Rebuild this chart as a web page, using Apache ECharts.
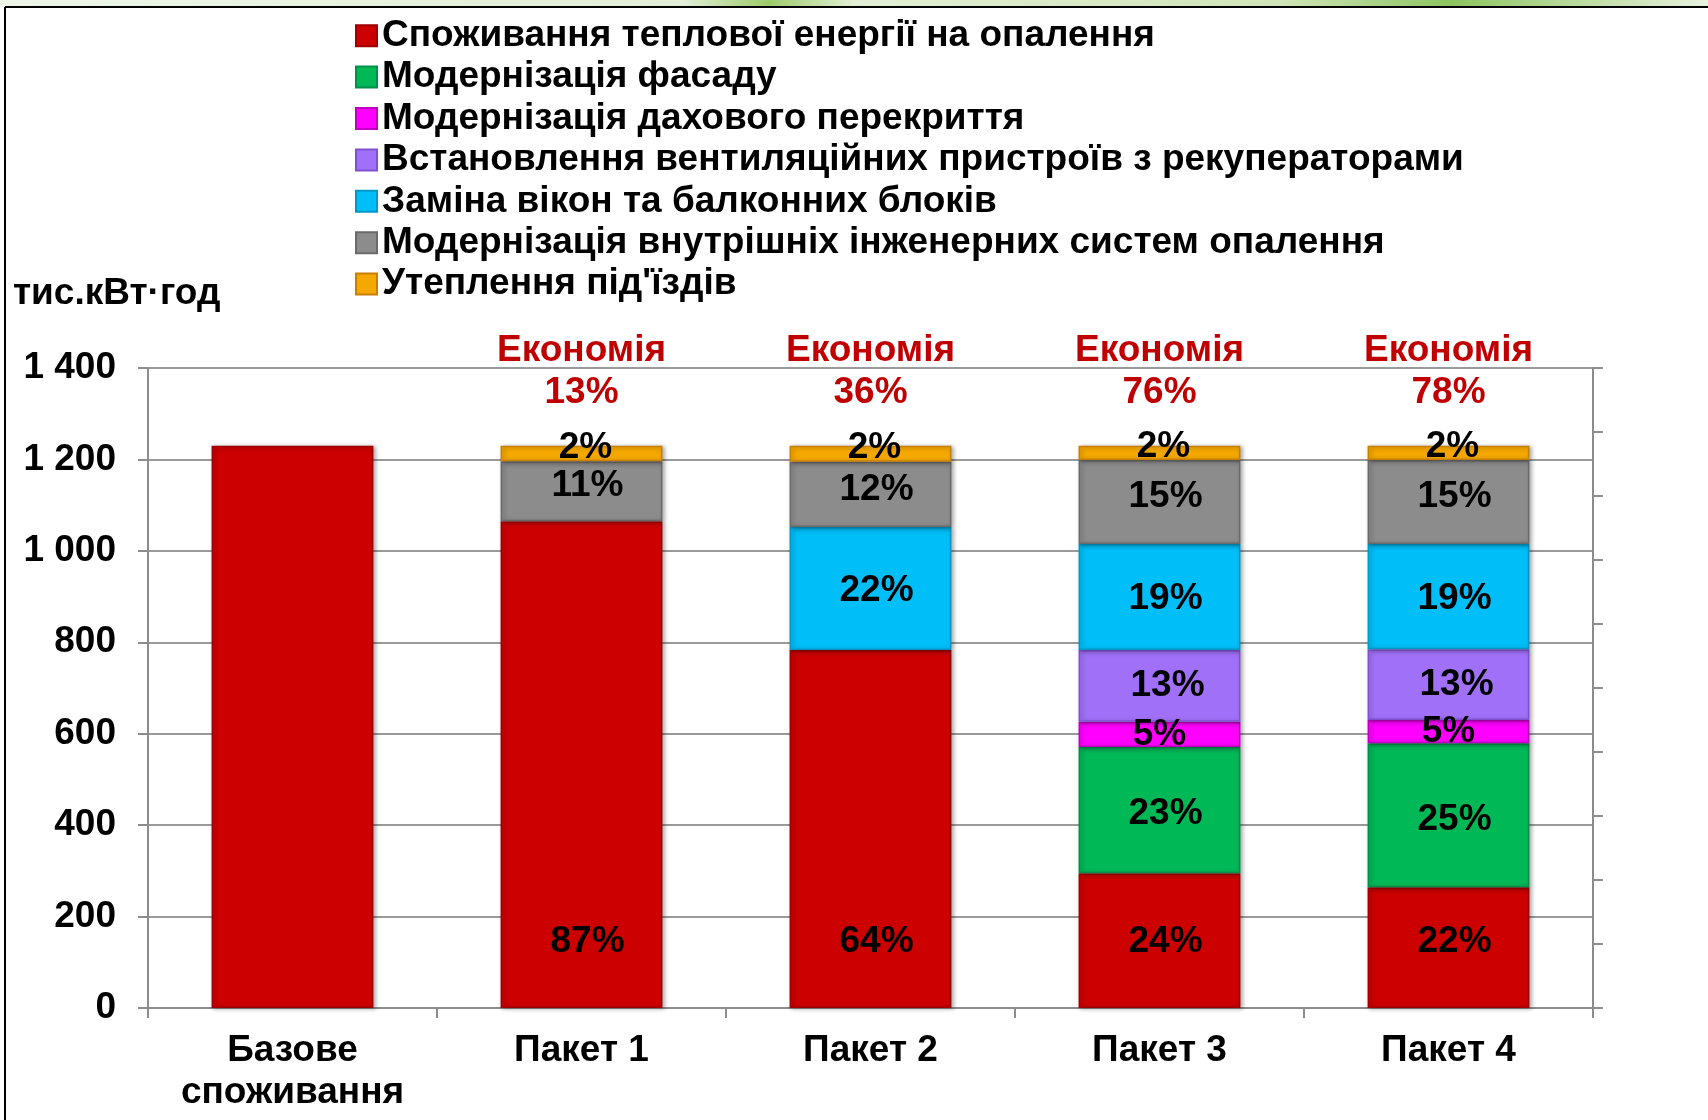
<!DOCTYPE html>
<html>
<head>
<meta charset="utf-8">
<script src="https://cdn.jsdelivr.net/npm/echarts@6/dist/echarts.min.js"></script>
<style>
html,body{margin:0;padding:0;background:#fff;}
#chart{width:1708px;height:1120px;}
</style>
</head>
<body>
<div id="chart"></div>
<script>
const categories = ['Базове\nспоживання', 'Пакет 1', 'Пакет 2', 'Пакет 3', 'Пакет 4'];
const seriesNames = [
  'Споживання теплової енергії на опалення',
  'Модернізація фасаду',
  'Модернізація дахового перекриття',
  'Встановлення вентиляційних пристроїв з рекуператорами',
  'Заміна вікон та балконних блоків',
  'Модернізація внутрішніх інженерних систем опалення',
  'Утеплення під\'їздів'
];
const heating     = [1230, 1065, 783, 295, 264];
const facade      = [null, null, null, 276, 315];
const roof        = [null, null, null, 55, 51];
const ventilation = [null, null, null, 157, 155];
const windows     = [null, null, 269, 232, 230];
const systems     = [null, 131, 143, 184, 184];
const entrance    = [null, 34, 35, 31, 31];

const heatingPct     = ['', '87%', '64%', '24%', '22%'];
const facadePct      = ['', '', '', '23%', '25%'];
const roofPct        = ['', '', '', '5%', '5%'];
const ventilationPct = ['', '', '', '13%', '13%'];
const windowsPct     = ['', '', '22%', '19%', '19%'];
const systemsPct     = ['', '11%', '12%', '15%', '15%'];
const entrancePct    = ['', '2%', '2%', '2%', '2%'];
const savings        = ['', '13%', '36%', '76%', '78%'];
const yTicks = [0, 200, 400, 600, 800, 1000, 1200, 1400];

const FONT = '"Liberation Sans", Arial, sans-serif';
const FS = 37;
const colors = ['#CC0000', '#00B856', '#FF00FF', '#A070F8', '#00BEF8', '#8C8C8C', '#F5A800'];
const borders = ['#A00000', '#00904A', '#C000C0', '#8050D0', '#0098C8', '#6A6A6A', '#C88000'];

const values = [heating, facade, roof, ventilation, windows, systems, entrance];
const pcts = [heatingPct, facadePct, roofPct, ventilationPct, windowsPct, systemsPct, entrancePct];
const labelPos = [
  {position: 'insideBottom', distance: 48, offset: [6, 0]},
  {position: 'inside', offset: [6, 4]},
  {position: 'inside', offset: [0, 0]},
  {position: 'inside', offset: [8, 0]},
  {position: 'inside', offset: [6, 2]},
  {position: 'inside', offset: [6, -5]},
  {position: 'inside', offset: [4, -6]}
];

const totals = categories.map((c, i) => values.reduce((s, arr) => s + (arr[i] || 0), 0));

const barSeries = values.map((arr, k) => ({
  name: seriesNames[k],
  type: 'bar',
  stack: 'total',
  barWidth: '56%',
  data: arr,
  itemStyle: {
    color: colors[k],
    borderColor: borders[k],
    borderWidth: 1.5,
    shadowBlur: 4,
    shadowOffsetX: 2,
    shadowOffsetY: 1,
    shadowColor: 'rgba(0,0,0,0.3)'
  },
  label: Object.assign({
    show: true,
    color: '#000',
    fontFamily: FONT,
    fontWeight: 'bold',
    fontSize: FS,
    formatter: p => pcts[k][p.dataIndex] || ''
  }, labelPos[k])
}));

const savingsSeries = {
  name: 'savings',
  type: 'scatter',
  symbolSize: 0,
  data: totals,
  silent: true,
  z: 10,
  itemStyle: {opacity: 1, color: '#C00000'},
  label: {
    show: true,
    opacity: 1,
    position: 'top',
    distance: 32,
    formatter: p => savings[p.dataIndex] ? '{e|Економія}\n{e|' + savings[p.dataIndex] + '}' : '',
    rich: {
      e: {fontFamily: FONT, fontWeight: 'bold', fontSize: FS, lineHeight: 42, color: '#C00000', align: 'center'}
    }
  }
};

const chart = echarts.init(document.getElementById('chart'), null, {renderer: 'canvas'});
chart.setOption({
  backgroundColor: '#fff',
  animation: false,
  textStyle: {fontFamily: FONT},
  graphic: [
    {type: 'rect', left: 0, top: 0, shape: {width: 1708, height: 7}, style: {fill: new echarts.graphic.LinearGradient(0, 0, 1, 0, [
      {offset: 0, color: '#EEF5E8'}, {offset: 0.4, color: '#E2EFD6'}, {offset: 0.45, color: '#9CCB6A'},
      {offset: 0.5, color: '#E2EFD6'}, {offset: 0.75, color: '#CFE5B8'}, {offset: 0.85, color: '#8DC460'}, {offset: 1, color: '#E8F2DE'}])}},
    {type: 'line', shape: {x1: 5, y1: 7, x2: 1708, y2: 7}, style: {stroke: '#000', lineWidth: 2}},
    {type: 'line', shape: {x1: 5, y1: 7, x2: 5, y2: 1120}, style: {stroke: '#000', lineWidth: 2}},
    {type: 'text', left: 13, top: 275, style: {text: 'тис.кВт·год', fontFamily: FONT, fontWeight: 'bold', fontSize: FS, fill: '#000'}}
  ],
  legend: {
    orient: 'vertical',
    left: 350,
    top: 10,
    itemWidth: 21,
    itemHeight: 21,
    itemGap: 0,
    icon: 'rect',
    data: seriesNames,
    textStyle: {fontFamily: FONT, fontWeight: 'bold', fontSize: FS, color: '#000', lineHeight: 41.4}
  },
  grid: {left: 148, right: 115, top: 368, bottom: 112, containLabel: false},
  xAxis: {
    type: 'category',
    data: categories,
    axisLine: {show: true, lineStyle: {color: '#8C8C8C', width: 2}},
    axisTick: {show: true, length: 10, lineStyle: {color: '#8C8C8C', width: 2}},
    axisLabel: {fontFamily: FONT, fontWeight: 'bold', fontSize: FS, color: '#000', lineHeight: 42, margin: 22, interval: 0}
  },
  yAxis: [
    {
      type: 'value',
      min: yTicks[0],
      max: yTicks[yTicks.length - 1],
      interval: yTicks[1] - yTicks[0],
      axisLine: {show: true, lineStyle: {color: '#8C8C8C', width: 2}},
      axisTick: {show: true, length: 10, lineStyle: {color: '#8C8C8C', width: 2}},
      splitLine: {show: true, lineStyle: {color: '#9A9A9A', width: 2}},
      axisLabel: {
        fontFamily: FONT, fontWeight: 'bold', fontSize: FS, color: '#000', margin: 32,
        formatter: v => String(v).replace(/\B(?=(\d{3})+(?!\d))/g, ' ')
      }
    },
    {
      type: 'value',
      position: 'right',
      min: 0, max: 10, interval: 1,
      axisLine: {show: true, lineStyle: {color: '#8C8C8C', width: 2}},
      axisTick: {show: true, length: 10, lineStyle: {color: '#8C8C8C', width: 2}},
      splitLine: {show: false},
      axisLabel: {show: false}
    }
  ],
  series: barSeries.concat([savingsSeries])
});
</script>
</body>
</html>
